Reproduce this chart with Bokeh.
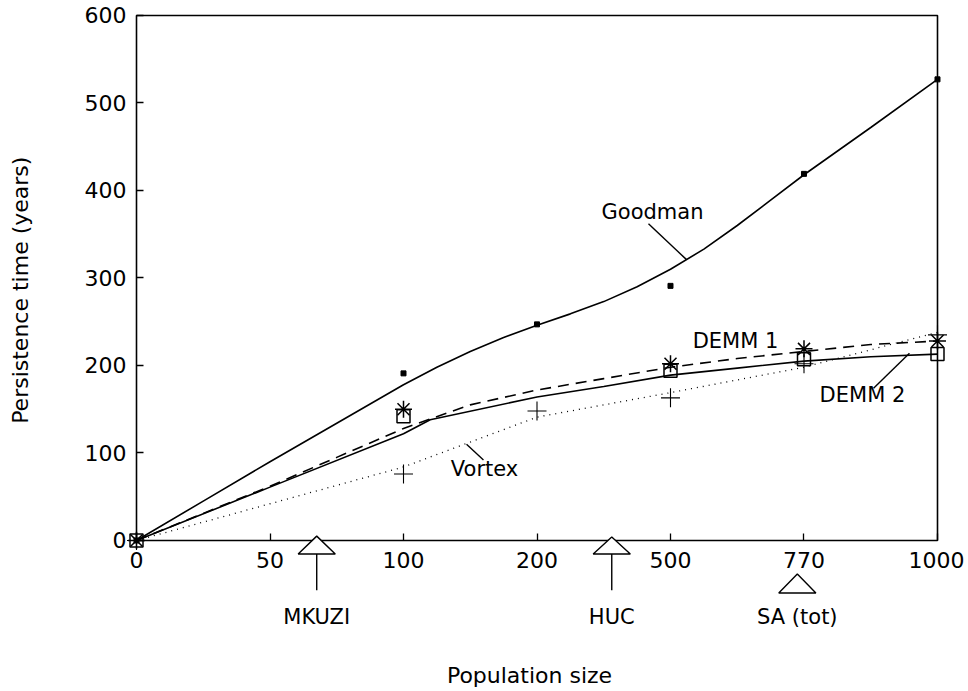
import math
from bokeh.plotting import figure
from bokeh.models import Range1d, FixedTicker, Label, PolyAnnotation, Arrow
from bokeh.embed import file_html
from bokeh.resources import INLINE

# ---- data ----
x_tick_labels = ["0", "50", "100", "200", "500", "770", "1000"]
y_ticks = [0, 100, 200, 300, 400, 500, 600]

# fitted curves (x given as category index 0..6)
goodman_cx = [0, 0.5, 1, 1.5, 2, 2.25, 2.5, 2.75, 3, 3.25, 3.5, 3.75, 4,
              4.25, 4.5, 4.75, 5, 5.5, 6]
goodman_cy = [0, 45, 90, 134, 178, 198, 216, 232, 246, 259, 273, 290, 310,
              333, 360, 389, 418, 472, 527]
demm1_cx = [0, 0.5, 1, 1.5, 2, 2.5, 3, 3.5, 4, 4.5, 5, 5.5, 6]
demm1_cy = [0, 31, 62, 95, 128, 155, 172, 185, 198, 208, 216, 224, 228]
demm2_cx = [0, 1, 2, 2.2, 3, 3.5, 4, 4.5, 5, 5.5, 6]
demm2_cy = [0, 61, 122, 138, 164, 176, 189, 197, 205, 210, 213]
vortex_cx = [0, 1, 2, 3, 4, 5, 6]
vortex_cy = [0, 42, 84, 141, 169, 198, 238]

# observed points
goodman_px = [0, 2, 3, 4, 5, 6]
goodman_py = [0, 191, 247, 291, 419, 527]
demm1_px = [0, 2, 4, 5, 6]
demm1_py = [0, 150, 202, 219, 228]
demm2_px = [0, 2, 4, 5, 6]
demm2_py = [0, 142, 194, 207, 213]
vortex_px = [0, 2, 3, 4, 5, 6]
vortex_py = [0, 76, 148, 163, 202, 235]

# reference populations shown below the axis (position on category scale)
ref_names = ["MKUZI", "HUC", "SA (tot)"]
ref_pos = [1.35, 3.56, 4.95]

FONT = "DejaVu Sans"
X_MAX = len(x_tick_labels) - 1
Y_MAX = y_ticks[-1]

# frame covers the whole canvas; axes are pinned at x=0 / y=0
p = figure(width=964, height=690,
           min_border_left=0, min_border_right=0,
           min_border_top=0, min_border_bottom=0,
           x_range=Range1d(-1.01873, 6.20225), y_range=Range1d(-171.43, 617.14),
           output_backend="svg", toolbar_location=None,
           background_fill_color="white", border_fill_color="white")
p.grid.visible = False
p.outline_line_color = None

p.xaxis.fixed_location = 0
p.yaxis.fixed_location = 0
p.xaxis.ticker = FixedTicker(ticks=list(range(len(x_tick_labels))))
p.xaxis.major_label_overrides = {i: t for i, t in enumerate(x_tick_labels)}
p.yaxis.ticker = FixedTicker(ticks=y_ticks)
for ax in (p.xaxis[0], p.yaxis[0]):
    ax.axis_line_color = None
    ax.major_tick_in = 7
    ax.major_tick_out = 0
    ax.major_tick_line_color = "black"
    ax.major_tick_line_width = 1.3
    ax.minor_tick_line_color = None
    ax.major_label_text_font = FONT
    ax.major_label_text_font_size = "22px"
    ax.major_label_text_color = "black"
p.xaxis.major_label_standoff = 12
p.yaxis.major_label_standoff = 10

# plot box
p.line([0, 0, X_MAX, X_MAX, 0], [0, Y_MAX, Y_MAX, 0, 0],
       line_color="black", line_width=1.6)

# curves
p.line(goodman_cx, goodman_cy, line_color="black", line_width=1.6)
p.line(demm1_cx, demm1_cy, line_color="black", line_width=1.6, line_dash="11 7")
p.line(demm2_cx, demm2_cy, line_color="black", line_width=1.6)
p.line(vortex_cx, vortex_cy, line_color="black", line_width=1.3, line_dash="1 5")

# points
p.scatter(goodman_px, goodman_py, marker="square", size=5, color="black")
p.scatter(demm2_px, demm2_py, marker="square", size=13, fill_color=None,
          line_color="black", line_width=1.5)
p.scatter(demm1_px, demm1_py, marker="asterisk", size=17,
          line_color="black", line_width=1.5)
p.scatter(vortex_px, vortex_py, marker="cross", size=19,
          line_color="black", line_width=1.1)


def lbl(x, y, t, size="21px", angle=0.0):
    p.add_layout(Label(x=x, y=y, text=t, text_font=FONT, text_font_size=size,
                       text_align="center", text_baseline="middle",
                       text_color="black", angle=angle))


def leader(x0, y0, x1, y1):
    p.add_layout(Arrow(end=None, x_start=x0, y_start=y0, x_end=x1, y_end=y1,
                       line_color="black", line_width=1.4))


# axis titles
lbl(-0.869, 286, "Persistence time (years)", size="22px", angle=math.pi / 2)
lbl(2.944, -154.3, "Population size", size="22px")

# curve labels with leader lines
lbl(3.865, 375, "Goodman")
leader(3.835, 362, 4.12, 321)
lbl(4.487, 228, "DEMM 1")
lbl(5.438, 166, "DEMM 2")
leader(5.521, 174, 5.79, 214)
lbl(2.607, 82, "Vortex")
leader(2.472, 110, 2.599, 92)

# reference population markers below the axis
hw = 0.139  # triangle half-width in category units
tri_specs = [(5, -15.4, True), (4, -15.4, True), (-38.3, -60, False)]
for name, xpos, (ya, yb, stem) in zip(ref_names, ref_pos, tri_specs):
    p.add_layout(PolyAnnotation(xs=[xpos, xpos - hw, xpos + hw], ys=[ya, yb, yb],
                                fill_color="white", fill_alpha=1.0,
                                line_color="black", line_alpha=1.0, line_width=1.4))
    if stem:
        p.add_layout(Arrow(end=None, x_start=xpos, y_start=yb, x_end=xpos, y_end=-57,
                           line_color="black", line_width=1.4))
    lbl(xpos, -87, name)

open("out.html", "w").write(file_html(p, INLINE))
